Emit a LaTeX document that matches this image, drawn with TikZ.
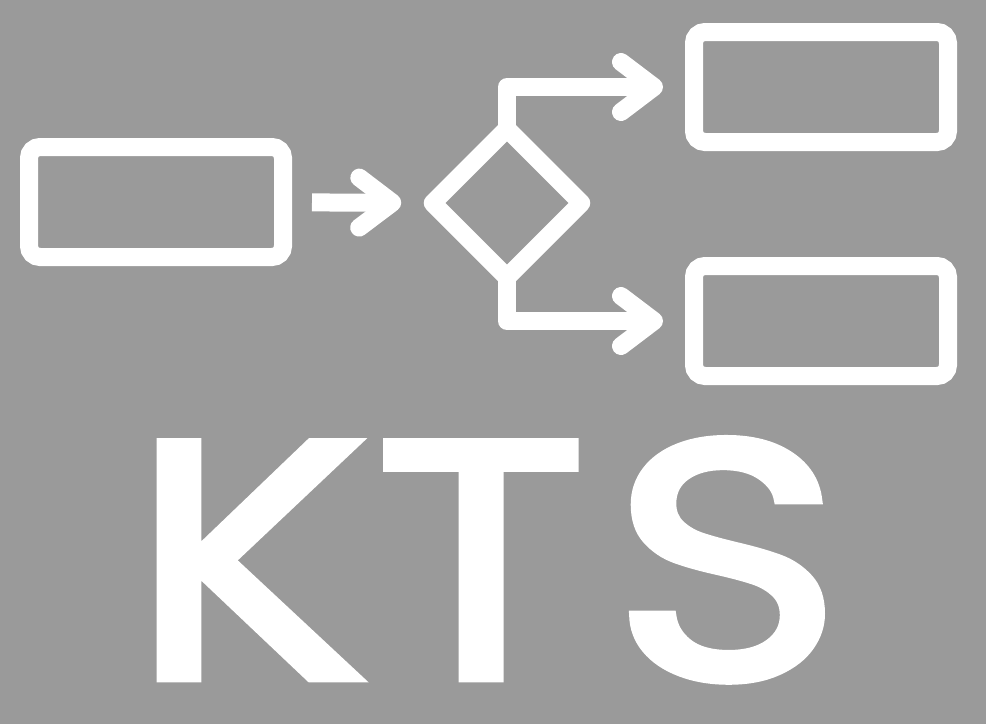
\documentclass[tikz,border=0pt]{standalone}
\usepackage{fontspec}
\setmainfont{Poppins}[FakeBold=2.6, FakeStretch=1.17]
\usetikzlibrary{shapes.geometric, arrows.meta}
\definecolor{bggray}{HTML}{9A9A9A}

\begin{document}
\begin{tikzpicture}[x=1pt, y=-1pt,
    box/.style={draw=white, line width=18pt, rounded corners=11pt, minimum width=254pt, minimum height=110pt, inner sep=0pt},
    decision/.style={diamond, aspect=1, draw=white, line width=18pt, line join=round, minimum width=156pt, minimum height=156pt, inner sep=0pt},
    flow/.style={draw=white, line width=18pt, line join=round, -{Straight Barb[length=33pt, width=50pt, round]}}]
    % Background
    \fill[bggray] (0, 0) rectangle (986, 724);
    \useasboundingbox (0, 0) rectangle (986, 724);

    % Boxes and decision
    \node[box] (input) at (156, 202) {};
    \node[decision] (choice) at (507, 203) {};
    \node[box] (upper) at (821, 87) {};
    \node[box] (lower) at (821, 321) {};

    % Arrows
    \draw[flow, shorten <=20pt, shorten >=19pt] (input) -- (choice);
    \draw[flow, shorten >=22pt] ([yshift=-14pt]choice.north) |- (upper); % upper branch
    \draw[flow, shorten >=22pt] ([yshift=14pt]choice.south) |- (lower); % lower branch

    % Title
    \node[text=white, inner sep=0pt, font=\fontsize{338}{338}\selectfont, anchor=base] (title) at (487, 678) {K\kern7pt T\kern23pt S};
\end{tikzpicture}
\end{document}
